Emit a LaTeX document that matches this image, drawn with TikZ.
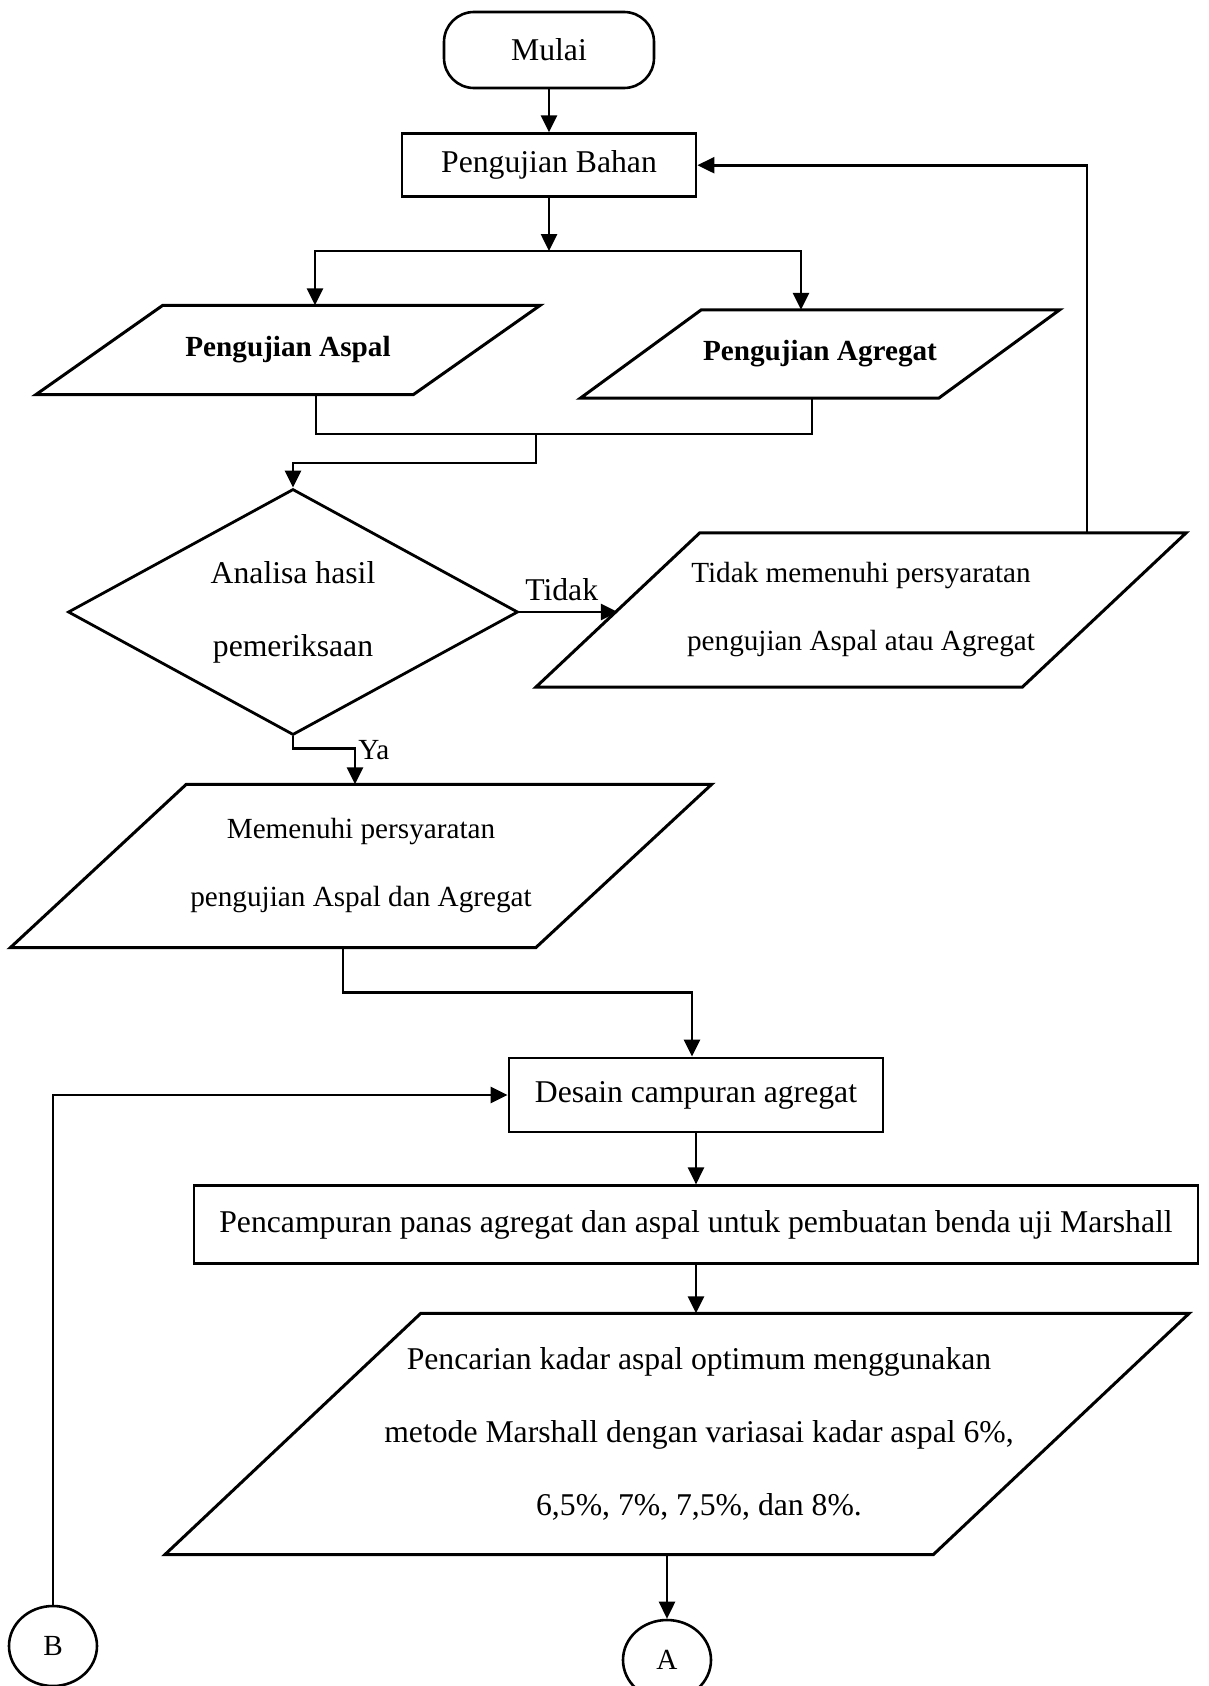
\documentclass[tikz,border=0pt]{standalone}
\usepackage{fontspec}
\setmainfont{Liberation Serif}
\usepackage{tikz}
\usetikzlibrary{arrows.meta,calc,positioning,shapes.geometric}
\newcommand{\fcbig}{\fontsize{31.7}{73}\selectfont}
\newcommand{\fcsmall}{\fontsize{29.2}{68}\selectfont}
\tikzset{%
  fcbox/.style={%
    draw,
    line width=2.8pt,
    rectangle,
    inner sep=0pt,
    align=center,
    font=\fcbig
  },
  fcterm/.style={%
    fcbox,
    line width=2.6pt,
    rounded corners=30pt,
    minimum width=210pt,
    minimum height=76pt
  },
  fcdata/.style={%
    rectangle,
    inner sep=0pt,
    align=center,
    font=\fcsmall,
    append after command={%
      \pgfextra{%
        \draw[line width=3pt,line join=miter]
          ([xshift=#1]\tikzlastnode.north west) -- ([xshift=#1]\tikzlastnode.north east)
          -- ([xshift=-#1]\tikzlastnode.south east) -- ([xshift=-#1]\tikzlastnode.south west)
          -- cycle;
      }%
    }
  },
  fcdecision/.style={%
    diamond,
    draw,
    line width=2.8pt,
    inner sep=0pt,
    aspect=1.8,
    align=center,
    font=\fcbig,
    minimum width=450pt,
    minimum height=246pt
  },
  fcconn/.style={%
    ellipse,
    draw,
    line width=2.6pt,
    inner sep=0pt,
    minimum width=88pt,
    minimum height=80pt,
    font=\fcsmall
  },
  fclabel/.style={inner sep=2pt,font=\fcbig},
  fcline/.style={line width=2.6pt},
  fcarrow/.style={fcline,-{Triangle[length=17pt,width=16pt]}}
}

\begin{document}
\begin{tikzpicture}[x=1pt,y=-1pt]
    \useasboundingbox (0,0) rectangle (1208,1686);

    \node[fcterm] (mulai) at (549,50) {Mulai};
    \node[fcbox,below=43pt of mulai,minimum width=294pt,minimum height=63pt] (bahan) {Pengujian Bahan};
    \node[fcdata=63.5pt,font=\fcsmall\bfseries,minimum width=377pt,minimum height=89pt] (aspal) at (288,350) {\raisebox{5pt}{Pengujian Aspal}};
    \node[fcdata=60.5pt,font=\fcsmall\bfseries,minimum width=358pt,minimum height=88pt] (agregat) at (820,354) {\raisebox{6pt}{Pengujian Agregat}};
    \node[fcdecision] (analisa) at (293,612) {Analisa hasil\\pemeriksaan};
    \node[fcdata=82pt,minimum width=486pt,minimum height=154pt] (tidak) at (861,610) {Tidak memenuhi persyaratan\\pengujian Aspal atau Agregat};
    \node[fcdata=88pt,minimum width=525pt,minimum height=163pt] (memenuhi) at (361,866) {Memenuhi persyaratan\\pengujian Aspal dan Agregat};
    \node[fcbox,minimum width=374pt,minimum height=74pt] (desain) at (696,1095) {Desain campuran agregat};
    \node[fcbox,below=51pt of desain,minimum width=1004pt,minimum height=78pt] (pencampuran) {Pencampuran panas agregat dan aspal untuk pembuatan benda uji Marshall};
    \node[fcdata=128pt,font=\fcbig,minimum width=768pt,minimum height=241pt] (kadar) at (677,1434) {\hspace*{44pt}Pencarian kadar aspal optimum menggunakan\\\hspace*{44pt}metode Marshall dengan variasai kadar aspal 6\%,\\\hspace*{44pt}6,5\%, 7\%, 7,5\%, dan 8\%.};
    \node[fcconn,below=64pt of kadar,xshift=-10pt] (a) {A};
    \node[fcconn] (b) at (53,1646) {B};

    % cabang dan gabungan
    \coordinate (bagi) at (549,251);
    \coordinate (gabung) at (536,434);

    \draw[fcarrow] (mulai) -- (bahan);
    \draw[fcarrow] (bahan) -- (bagi);
    \draw[fcarrow] (bagi) -| ([xshift=27pt]aspal.north);
    \draw[fcarrow] (bagi) -| ([xshift=-19pt]agregat.north);
    \draw[fcline] ([xshift=28pt]aspal.south) |- (gabung) -| ([xshift=-8pt]agregat.south);
    \draw[fcarrow] (gabung) -- ++(0,29) -| (analisa.north);
    \draw[fcarrow] (analisa.east) -- node[fclabel,pos=0.43,above=8pt] {Tidak} (analisa.east -| tidak.west);
    \draw[fcarrow] ([xshift=226pt]tidak.north) |- (bahan.east);
    \draw[fcarrow] (analisa.south) -- ++(0,12) -| node[fclabel,font=\fcsmall,pos=0.52,right] {Ya} ([xshift=-6pt]memenuhi.north);
    \draw[fcarrow] ([xshift=-18pt]memenuhi.south) -- ++(0,45) -| ([xshift=-4pt]desain.north);
    \draw[fcarrow] (b) |- (desain);
    \draw[fcarrow] (desain.south) -- (desain.south |- pencampuran.north);
    \draw[fcarrow] (pencampuran.south) -- (pencampuran.south |- kadar.north);
    \draw[fcarrow] (kadar.south -| a.north) -- (a.north);
\end{tikzpicture}
\end{document}
